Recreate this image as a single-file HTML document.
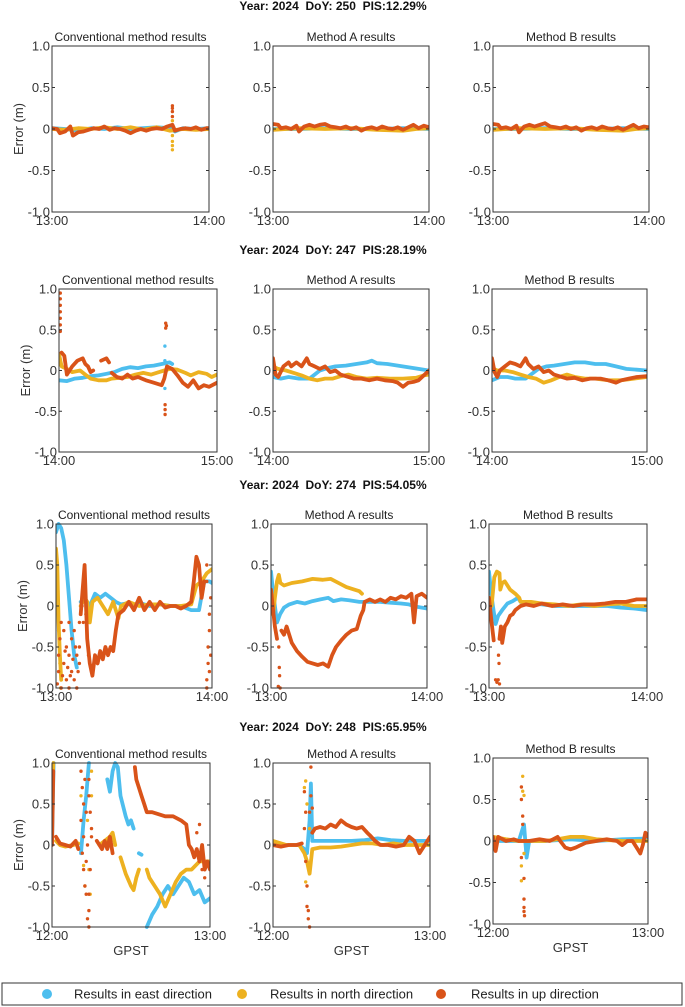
<!DOCTYPE html>
<html><head><meta charset="utf-8"><style>
body{margin:0;background:#fff;}
svg{display:block;font-family:"Liberation Sans",sans-serif;}
</style></head><body>
<svg id="fig" width="685" height="1007" viewBox="0 0 685 1007" xmlns="http://www.w3.org/2000/svg"></svg>
<script>
// ---- data (time in minutes since start, error in metres) ----
const yTicks=[1.0,0.5,0,-0.5,-1.0];
const yTickLabels=["1.0","0.5","0","-0.5","-1.0"];
const headers=["Year: 2024  DoY: 250  PIS:12.29%","Year: 2024  DoY: 247  PIS:28.19%","Year: 2024  DoY: 274  PIS:54.05%","Year: 2024  DoY: 248  PIS:65.95%"];
const xTickLabels=[["13:00","14:00"],["14:00","15:00"],["13:00","14:00"],["12:00","13:00"]];
const panelTitles=["Conventional method results","Method A results","Method B results"];

// Row 1 (DoY 250)
const r1c1_east=[[0,0.01],[5,0],[10,-0.02],[15,0.01],[20,0],[25,0.02],[30,0],[35,0.01],[40,0.02],[45,0.01],[47,-0.03],[50,0.01],[55,0],[60,0.01]];
const r1c1_north=[[0,0],[5,-0.01],[10,0.01],[15,0],[20,0.02],[25,0],[30,0.02],[35,-0.01],[40,0.02],[45,-0.02],[50,0],[55,-0.01],[60,0]];
const r1c1_up=[[0,0.01],[2,0],[3,-0.05],[5,-0.03],[7,0.03],[8,-0.08],[10,-0.04],[12,-0.03],[14,-0.01],[16,0.01],[18,0],[20,0.03],[22,-0.01],[24,0.01],[26,0],[28,-0.02],[30,-0.05],[32,-0.02],[34,0],[36,-0.02],[38,0],[40,0.01],[42,0],[44,0.03],[46,0.05],[47,-0.02],[49,0],[51,0.01],[53,0],[55,0.02],[57,-0.01],[59,0.01],[60,0.01]];
const r1c1_spikes_up=[[46,0.28],[46,0.25],[46,0.21],[46,0.15]];
const r1c1_spikes_en=[[46,0.1],[46,-0.08],[46,-0.15],[46,-0.2],[46,-0.25]];
const r1c2_east=[[0,0],[10,0],[20,0.01],[30,0],[40,0],[50,0.01],[60,0]];
const r1c2_north=[[0,-0.01],[5,0],[10,0.01],[20,0],[30,0.01],[40,-0.01],[50,-0.02],[55,0],[60,0.01]];
const r1c2_up=[[0,0.06],[2,0.05],[3,0.01],[5,0.02],[7,0],[9,0.04],[10,-0.03],[12,0.03],[14,0.05],[16,0.03],[18,0.05],[20,0.06],[22,0.03],[24,0.02],[26,0.01],[28,0.03],[30,0],[32,0.02],[34,-0.02],[36,0.01],[38,0.02],[40,0],[42,0.03],[44,0.01],[46,0],[48,0.02],[50,-0.01],[52,0.02],[54,0.05],[56,0.01],[58,0.04],[60,0.02]];
const r1c3_east=[[0,0],[10,0],[20,0.01],[30,0],[40,0],[50,0.01],[60,0]];
const r1c3_north=[[0,-0.01],[5,0],[10,0.01],[20,0],[30,0.01],[40,-0.01],[50,-0.02],[55,0],[60,0.01]];
const r1c3_up=[[0,0.06],[2,0.05],[3,0.01],[5,0.02],[7,0],[9,0.04],[10,-0.04],[12,0.03],[14,0.05],[16,0.03],[18,0.05],[20,0.07],[22,0.03],[24,0.02],[26,0.01],[28,0.03],[30,0],[32,0.02],[34,-0.02],[36,0.01],[38,0.02],[40,0],[42,0.03],[44,0.01],[46,0],[48,0.02],[50,-0.01],[52,0.02],[54,0.05],[56,0.01],[58,0.03],[60,0.02]];

// Row 2 (DoY 247)
const r2c1_east=[[0,-0.12],[3,-0.13],[6,-0.1],[9,-0.09],[12,-0.07],[15,-0.06],[18,-0.04],[21,-0.02],[24,0.02],[27,0.04],[30,0.03],[33,0.05],[36,0.06],[39,0.08],[42,0.1],[43,0.08]];
const r2c1_north=[[0,0.2],[1,0.05],[3,0.02],[5,-0.02],[8,0],[10,-0.05],[12,-0.1],[15,-0.12],[18,-0.12],[20,-0.1],[23,-0.09],[26,-0.08],[29,-0.05],[32,-0.03],[35,-0.05],[38,-0.02],[40,0],[42,0.02],[45,0.01],[48,-0.03],[50,-0.06],[53,-0.02],[56,-0.04],[58,-0.08],[60,-0.05]];
const r2c1_up=[[1,0.22],[2,0.18],[3,-0.05],[5,0.05],[7,0.12],[9,0.15],[10,0.08],[11,0.05],[12,-0.02],[13,0],[null,null],[16,0.12],[18,0.15],[19,0.1],[null,null],[20,-0.03],[22,-0.08],[24,-0.1],[26,-0.05],[28,-0.1],[30,-0.08],[33,-0.12],[36,-0.15],[39,-0.18],[40,-0.1],[41,0.05],[43,0.02],[45,-0.06],[47,-0.15],[49,-0.2],[51,-0.12],[53,-0.22],[55,-0.18],[57,-0.2],[60,-0.15]];
const r2c1_spikes_up=[[0.5,0.95],[0.5,0.88],[0.5,0.8],[0.5,0.72],[0.5,0.64],[0.5,0.56],[0.5,0.48],[40.5,0.58],[40.8,0.55],[40.5,0.52],[40.3,-0.42],[40.3,-0.48],[40.3,-0.54]];
const r2c1_spikes_en=[[40.2,0.3],[40.2,0.12],[40.2,-0.22]];
const r2c2_east=[[0,-0.08],[3,-0.1],[6,-0.08],[10,-0.1],[14,-0.1],[16,-0.05],[18,0],[21,0.03],[24,0.05],[28,0.06],[32,0.08],[36,0.1],[38,0.12],[40,0.09],[44,0.08],[48,0.06],[52,0.04],[56,0.02],[60,0.0]];
const r2c2_north=[[0,0.05],[2,0.02],[5,0],[8,-0.03],[11,-0.06],[14,-0.1],[17,-0.12],[20,-0.1],[23,-0.1],[26,-0.07],[29,-0.05],[32,-0.08],[36,-0.1],[40,-0.09],[45,-0.1],[50,-0.1],[55,-0.09],[58,-0.06],[60,-0.05]];
const r2c2_up=[[0,0.15],[1,-0.05],[2,-0.08],[4,0.05],[6,0.1],[7,0.05],[9,0.1],[11,0.05],[13,0.15],[14,0.08],[16,0.05],[18,0.02],[20,0.05],[22,-0.02],[24,0.0],[26,-0.05],[28,-0.07],[31,-0.1],[34,-0.1],[37,-0.12],[40,-0.1],[43,-0.12],[46,-0.13],[48,-0.15],[50,-0.2],[52,-0.15],[54,-0.14],[56,-0.12],[58,-0.06],[60,0]];
const r2c3_east=[[0,-0.12],[3,-0.08],[6,-0.08],[9,-0.1],[13,-0.1],[15,-0.05],[18,0.02],[21,0.05],[24,0.06],[28,0.08],[32,0.1],[36,0.1],[40,0.08],[44,0.08],[48,0.05],[52,0.02],[56,0.01],[60,0.0]];
const r2c3_north=[[0,0.03],[2,0.0],[5,0.0],[8,-0.02],[11,-0.05],[14,-0.08],[17,-0.1],[20,-0.15],[23,-0.12],[26,-0.08],[29,-0.05],[32,-0.08],[36,-0.1],[40,-0.1],[45,-0.12],[50,-0.12],[55,-0.1],[60,-0.08]];
const r2c3_up=[[0,0.15],[1,-0.02],[2,-0.08],[3,0],[5,0.05],[7,0.1],[9,0.08],[11,0.05],[13,0.15],[14,0.08],[16,0.02],[18,0.05],[20,-0.02],[22,0],[24,-0.05],[26,-0.07],[29,-0.1],[32,-0.09],[35,-0.12],[38,-0.1],[42,-0.1],[45,-0.12],[48,-0.15],[50,-0.12],[53,-0.1],[56,-0.08],[60,-0.07]];

// Row 3 (DoY 274)
const r3c1_east=[[0,0.9],[1,1.0],[2,0.95],[3,0.8],[4,0.5],[5,0.1],[6,-0.3],[7,-0.6],[8,-0.75],[null,null],[9.5,0.05],[11,0.1],[13,0.0],[15,0.15],[17,0.1],[19,0.15],[21,0.1],[23,0.05],[25,0.02],[27,0.03],[30,0.0],[33,0.03],[36,0.0],[40,0.02],[44,0.0],[48,0.0],[52,-0.05],[55,-0.05],[57,0.3],[59,0.3],[60,0.28]];
const r3c1_north=[[0,0.7],[0.5,0.5],[1,-0.2],[1.5,-0.6],[2,-0.9],[null,null],[9.5,0.0],[11,0.1],[12,0.05],[13,-0.2],[14,0.05],[16,0.1],[18,0.0],[20,-0.1],[22,0.05],[24,-0.15],[25,0.0],[28,0.05],[32,0.0],[36,0.02],[40,0.02],[44,0],[48,0],[52,0.02],[54,0.25],[56,0.3],[58,0.4],[60,0.45]];
const r3c1_up=[[9.5,-0.1],[10.5,0.3],[11,0.5],[12,-0.4],[13,-0.7],[14,-0.85],[15,-0.6],[16,-0.7],[17,-0.55],[18,-0.65],[19,-0.5],[20,-0.6],[21,-0.5],[22,-0.55],[23,-0.3],[24,-0.1],[26,-0.05],[28,0.05],[30,-0.05],[32,0.1],[34,-0.05],[36,0.05],[38,-0.05],[40,0.05],[42,-0.02],[44,0.0],[46,0],[48,-0.03],[50,0.0],[52,0.05],[53,0.3],[54,0.6],[55,0.5],[56,0.1],[57,0.3]];
const r3c1_spikes_up=[[0.5,-0.95],[1,-0.8],[1,-0.6],[1.5,-0.4],[2,-0.2],[2,-1.0],[2.5,-0.85],[3,-0.3],[3,-0.7],[3.5,-0.55],[4,-0.5],[4,-0.9],[4.5,-0.75],[5,-0.2],[5,-0.6],[5,-1.0],[5.5,-0.85],[6,-0.4],[6,-0.8],[6.5,-0.65],[7,-0.3],[7,-0.9],[7.5,-0.5],[8,-0.6],[8,-1.0],[8.5,-0.8],[9,-0.2],[9,-0.5],[9,-0.7],[10,0.0],[10.5,-0.2],[11.5,-0.1],[12.5,-0.6],[58,-1.0],[58,-0.9],[58.5,-0.7],[58.5,-0.5],[59,-0.3],[59,-0.1],[59.5,0.1],[58,0.5],[58,0.3],[59.5,-0.6],[59,-0.8]];
const r3c1_spikes_n=[[0.3,0.6],[0.5,0.3],[0.8,0.0],[1,-0.3],[1.2,-0.5],[1.5,-0.7],[2,-0.85],[1.8,-1.0]];
const r3c2_east=[[0,0.42],[0.7,0.2],[1.5,0.0],[2.3,-0.2],[3.5,-0.1],[5,-0.02],[7,0.02],[10,0.05],[13,0.03],[16,0.06],[19,0.08],[22,0.1],[24,0.06],[27,0.08],[30,0.07],[34,0.05],[38,0.05],[42,0.05],[46,0.04],[50,0.03],[53,0.02],[56,-0.01],[60,-0.03]];
const r3c2_north=[[0,0.0],[0.8,-0.1],[1.5,0.1],[2.3,0.3],[3,0.38],[3.6,0.28],[5,0.25],[8,0.28],[12,0.3],[16,0.33],[20,0.32],[23,0.33],[26,0.28],[29,0.23],[32,0.2],[34,0.18],[35,0.15]];
const r3c2_up=[[0,0.2],[0.8,-0.05],[1.5,-0.25],[2.3,-0.4],[null,null],[4,-0.3],[5,-0.35],[6,-0.25],[7,-0.35],[8,-0.45],[10,-0.55],[12,-0.62],[14,-0.68],[16,-0.7],[18,-0.72],[20,-0.7],[22,-0.74],[23.5,-0.6],[25,-0.5],[27,-0.42],[29,-0.35],[31,-0.3],[33,-0.28],[34.5,-0.12],[35.5,-0.05],[36,0.05],[38,0.08],[40,0.05],[42,0.08],[44,0.05],[46,0.1],[48,0.08],[50,0.12],[52,0.1],[54,0.15],[55,-0.2],[56,0.12],[58,0.15],[60,0.1]];
const r3c2_spikes_up=[[3,-0.5],[3.2,-0.75],[3.3,-0.85],[2.8,-0.98],[3.5,-1.0]];
const r3c3_east=[[0,0.42],[0.7,0.2],[1.5,0.0],[2.5,-0.22],[3.5,-0.12],[5,-0.05],[7,0.03],[9,0.06],[11,0.1],[12,0.05],[15,0.03],[20,0.02],[25,0.0],[30,0.0],[35,0.0],[40,0.0],[45,0.0],[50,-0.02],[55,-0.03],[60,-0.05]];
const r3c3_north=[[0,0.1],[1,0.0],[2,0.35],[3,0.42],[4,0.4],[4.3,0.2],[5,0.28],[6,0.3],[8,0.2],[10,0.15],[11.5,0.1],[12,0.05],[16,0.05],[20,0.03],[25,0.02],[30,0.0],[35,0.02],[40,0.0],[45,0.02],[50,0.03],[55,0.0],[60,0.0]];
const r3c3_up=[[0,0.1],[1,-0.2],[1.8,-0.42],[null,null],[4,-0.4],[4.5,-0.25],[5,-0.45],[6,-0.25],[7,-0.2],[8,-0.12],[9,-0.1],[10,-0.05],[12,0.0],[14,0.02],[17,0],[20,0.03],[24,0.0],[28,0.02],[32,0],[36,0.02],[40,0.02],[44,0.03],[48,0.05],[52,0.05],[56,0.08],[60,0.08]];
const r3c3_spikes_up=[[2.5,-0.9],[3,-0.93],[3.5,-0.9],[4,-0.95],[3.6,-0.6],[3.8,-0.7]];

// Row 4 (DoY 248)
const r4c1_east=[[0,0.0],[0.3,0.5],[0.6,1.0],[null,null],[11,-0.1],[12,0.3],[13,0.6],[14,1.0],[null,null],[21,0.8],[22,0.65],[23,0.9],[24,1.0],[25,0.95],[26,0.6],[28,0.35],[29,0.25],[30,0.3],[31,0.2],[null,null],[33,-0.1],[34,-0.12],[null,null],[36,-1.0],[38,-0.85],[40,-0.75],[42,-0.6],[44,-0.5],[46,-0.6],[48,-0.5],[50,-0.4],[52,-0.45],[54,-0.6],[56,-0.55],[58,-0.7],[60,-0.65]];
const r4c1_north=[[0,0.6],[0.5,1.0],[null,null],[1.5,0.05],[3,0.0],[5,-0.02],[8,0.0],[10,0.02],[null,null],[18,0.0],[20,0.05],[22,0.1],[23,0.15],[24,0.0],[null,null],[26,-0.15],[28,-0.35],[30,-0.5],[31,-0.55],[32,-0.4],[33,-0.3],[null,null],[36,-0.3],[37,-0.4],[39,-0.5],[41,-0.6],[43,-0.75],[45,-0.6],[47,-0.45],[49,-0.35],[51,-0.3],[53,-0.3],[56,-0.2],[60,-0.2]];
const r4c1_up=[[0,0.0],[0.5,0.9],[null,null],[1.5,0.1],[3,0.02],[5,0.0],[7,-0.02],[9,0.05],[10,-0.05],[null,null],[17,0.05],[19,-0.05],[20,0.05],[21,-0.05],[22,0.1],[23,-0.1],[null,null],[31.5,0.95],[32,0.8],[33,0.7],[34,0.6],[35,0.5],[36,0.4],[38,0.4],[40,0.38],[43,0.35],[46,0.35],[49,0.3],[51,0.25],[52,0.0],[53,-0.05],[54,-0.15],[55,-0.05],[56,-0.2],[57,0.0],[58,-0.3],[59,-0.2],[60,-0.3]];
const r4c1_spikes_up=[[11,0.9],[11.5,0.7],[12,0.5],[11,0.3],[12,0.1],[11.5,-0.1],[12,-0.3],[12.5,-0.5],[13,-0.2],[12.5,0.8],[13,0.4],[13.5,0.0],[14,0.6],[14,0.8],[14.5,0.4],[15,0.1],[15,0.2],[14,-0.6],[14,-0.8],[13.5,-0.9],[14,-1.0],[13,-0.6],[14.5,-0.3],[55,0.15],[56,0.25],[57,-0.3],[58,-0.4]];
const r4c1_spikes_n=[[11,0.6],[12,-0.25],[12.5,-0.5],[13.5,0.3],[14,-0.3],[14.5,-0.6],[15,0.9],[15,0.6]];
const r4c2_east=[[0,0.0],[5,0.0],[10,0.0],[12,-0.05],[13,-0.1],[14,0.3],[14.5,0.75],[15,0.05],[17,0.05],[20,0.05],[25,0.05],[30,0.05],[35,0.06],[40,0.08],[45,0.06],[50,0.05],[55,0.05],[60,0.05]];
const r4c2_north=[[0,0.05],[5,0.0],[10,0.0],[12,-0.1],[13,-0.2],[14,-0.35],[15,-0.05],[18,-0.03],[22,-0.03],[26,-0.02],[30,0.0],[34,0.02],[38,0.02],[42,0.0],[46,0.02],[50,0.0],[55,0.0],[60,0.0]];
const r4c2_up=[[0,0.0],[3,-0.02],[6,0.0],[9,0.0],[11,0.02],[null,null],[15,0.15],[16,0.2],[18,0.22],[20,0.2],[22,0.25],[24,0.22],[26,0.3],[28,0.25],[30,0.22],[32,0.2],[34,0.22],[36,0.15],[37,0.12],[39,0.05],[41,0.0],[44,0.0],[47,-0.02],[50,0.0],[52,0.1],[54,0.05],[56,-0.1],[58,0.0],[60,0.1]];
const r4c2_spikes_up=[[12,0.65],[12.5,0.4],[12,0.2],[12.5,-0.2],[13,-0.5],[13,-0.75],[13.5,-0.8],[13.5,-0.9],[14,-1.0],[14.5,0.95],[14.5,0.6],[14,0.4],[15,0.45]];
const r4c2_spikes_n=[[12,0.7],[12.5,0.78],[13,0.5],[12.5,-0.45],[14,0.2]];
const r4c3_east=[[0,0.0],[10,0.0],[12,0.2],[13,-0.2],[14,0.0],[20,0.0],[30,0.02],[40,0.0],[50,0.02],[60,0.03]];
const r4c3_north=[[0,0.05],[5,0.02],[10,0.0],[14,0.0],[20,0.0],[25,0.02],[30,0.05],[35,0.05],[40,0.02],[50,0.0],[60,0.0]];
const r4c3_up=[[0,0.05],[1,-0.12],[2,0.05],[5,0.0],[8,0.02],[10,0.0],[14,0.0],[18,0.02],[22,0.0],[25,0.05],[26,0.0],[28,-0.08],[30,-0.1],[32,-0.08],[34,-0.05],[36,-0.02],[40,0.0],[44,0.02],[48,0.0],[50,-0.05],[52,0.0],[54,0.0],[56,-0.1],[57,-0.15],[58,-0.05],[59,0.1],[60,0.05]];
const r4c3_spikes_up=[[11,0.65],[11,0.5],[11.5,0.3],[11.5,0.2],[11,-0.2],[12,-0.45],[12,-0.7],[12,-0.8],[12,-0.85],[12.2,-0.9]];
const r4c3_spikes_n=[[11.5,0.78],[11.5,0.6],[11,-0.3],[11,-0.48],[12,0.55],[12,-0.15]];

// ---- layout ----
const C={east:"#4DBEEE",north:"#EDB120",up:"#D95319"};
const geom=[
 {y0:46,y1:212,x:[[52,209],[273,429],[493,649]]},
 {y0:289,y1:452,x:[[59,217],[273,429],[492,647]]},
 {y0:524,y1:688,x:[[56,212],[271,427],[489,647]]},
 {y0:763,y1:927,x:[[52,210],[273,430],[493,648]],alt:{2:[758,924]}}
];
const headerY=[10,254,489,731];
const panelData=[
 [{e:r1c1_east,n:r1c1_north,u:r1c1_up,su:r1c1_spikes_up,sn:r1c1_spikes_en},{e:r1c2_east,n:r1c2_north,u:r1c2_up},{e:r1c3_east,n:r1c3_north,u:r1c3_up}],
 [{e:r2c1_east,n:r2c1_north,u:r2c1_up,su:r2c1_spikes_up,se:r2c1_spikes_en},{e:r2c2_east,n:r2c2_north,u:r2c2_up},{e:r2c3_east,n:r2c3_north,u:r2c3_up}],
 [{e:r3c1_east,n:r3c1_north,u:r3c1_up,su:r3c1_spikes_up,sn:r3c1_spikes_n},{e:r3c2_east,n:r3c2_north,u:r3c2_up,su:r3c2_spikes_up},{e:r3c3_east,n:r3c3_north,u:r3c3_up,su:r3c3_spikes_up}],
 [{e:r4c1_east,n:r4c1_north,u:r4c1_up,su:r4c1_spikes_up,sn:r4c1_spikes_n},{e:r4c2_east,n:r4c2_north,u:r4c2_up,su:r4c2_spikes_up,sn:r4c2_spikes_n},{e:r4c3_east,n:r4c3_north,u:r4c3_up,su:r4c3_spikes_up,sn:r4c3_spikes_n}]
];
const NS="http://www.w3.org/2000/svg";
const svg=document.getElementById('fig');
function mk(tag,attrs,parent){const el=document.createElementNS(NS,tag);for(const k in attrs)el.setAttribute(k,attrs[k]);(parent||svg).appendChild(el);return el;}

headers.forEach((h,i)=>{
 const t=mk('text',{x:333,y:headerY[i],'text-anchor':'middle','font-size':'12','font-weight':'bold',fill:'#111',style:'white-space:pre'});
 
 
 t.textContent=h;
});

function drawSeries(g,pts,sx,sy,color,name){
 let segs=[],cur=[];
 pts.forEach(p=>{if(p[0]===null){if(cur.length)segs.push(cur);cur=[];}else cur.push(sx(p[0]).toFixed(1)+','+sy(p[1]).toFixed(1));});
 if(cur.length)segs.push(cur);
 segs.forEach(s=>{
  const pl=mk('polyline',{points:s.join(' '),fill:'none',stroke:color,'stroke-width':'3.8','stroke-linejoin':'round','stroke-linecap':'round'},g);
  
  
 });
}
function drawDots(g,pts,sx,sy,color,name){
 pts.forEach(p=>{
  const c=mk('circle',{cx:sx(p[0]).toFixed(1),cy:sy(p[1]).toFixed(1),r:'1.7',fill:color},g);
  
  
 });
}

geom.forEach((row,ri)=>{
 row.x.forEach((xr,ci)=>{
  let y0=row.y0,y1=row.y1;
  if(row.alt&&row.alt[ci]){y0=row.alt[ci][0];y1=row.alt[ci][1];}
  const x0=xr[0],x1=xr[1];
  const sx=t=>x0+(x1-x0)*t/60;
  const sy=v=>{const vv=Math.max(-1,Math.min(1,v));return y1-(y1-y0)*(vv+1)/2;};
  const g=mk('g',{});
  
  
  const ttl=mk('text',{x:(x0+x1)/2,y:y0-5,'text-anchor':'middle','font-size':'12',fill:'#222'},g);
  
  
  ttl.textContent=panelTitles[ci];
  const clipId='clip'+ri+ci;
  const cp=mk('clipPath',{id:clipId},g);mk('rect',{x:x0,y:y0-2,width:x1-x0,height:y1-y0+4},cp);
  const dg=mk('g',{'clip-path':'url(#'+clipId+')'},g);
  const d=panelData[ri][ci];
  drawSeries(dg,d.e,sx,sy,C.east,'east-series');
  drawSeries(dg,d.n,sx,sy,C.north,'north-series');
  drawSeries(dg,d.u,sx,sy,C.up,'up-series');
  if(d.se)drawDots(dg,d.se,sx,sy,C.east,'east-outlier');
  if(d.sn)drawDots(dg,d.sn,sx,sy,C.north,'north-outlier');
  if(d.su)drawDots(dg,d.su,sx,sy,C.up,'up-outlier');
  const fr=mk('rect',{x:x0,y:y0,width:x1-x0,height:y1-y0,fill:'none',stroke:'#333','stroke-width':'1'},g);
  
  
  yTicks.forEach((v,k)=>{
   const yy=sy(v);
   mk('line',{x1:x0,x2:x0+3,y1:yy,y2:yy,stroke:'#333'},g);
   mk('line',{x1:x1,x2:x1-3,y1:yy,y2:yy,stroke:'#333'},g);
   const tl=mk('text',{x:x0-2,y:yy+4.5,'text-anchor':'end','font-size':'13',fill:'#333'},g);
   
   
   tl.textContent=yTickLabels[k];
  });
  [0,60].forEach((t,k)=>{
   const tl=mk('text',{x:sx(t),y:y1+13,'text-anchor':'middle','font-size':'13',fill:'#333'},g);
   
   
   tl.textContent=xTickLabels[ri][k];
  });
  if(ci===0){
   const yl=mk('text',{x:0,y:0,'text-anchor':'middle','font-size':'13',fill:'#333',transform:'translate('+(x0-29)+','+((y0+y1)/2)+') rotate(-90)'},g);
   
   
   yl.textContent='Error (m)';
  }
  if(ri===3){
   const xl=mk('text',{x:(x0+x1)/2,y:y1+28,'text-anchor':'middle','font-size':'13',fill:'#333'},g);
   
   
   xl.textContent='GPST';
  }
 });
});

// legend
const lg=mk('g',{});


mk('rect',{x:2,y:983,width:680,height:22,fill:'#fff',stroke:'#333','stroke-width':'1'},lg);
[["Results in east direction",C.east,47,74],["Results in north direction",C.north,242,270],["Results in up direction",C.up,441,471]].forEach(e=>{
 const c=mk('circle',{cx:e[2],cy:994,r:5,fill:e[1]},lg);
 
 
 const t=mk('text',{x:e[3],y:998.5,'font-size':'13',fill:'#222'},lg);
 
 
 t.textContent=e[0];
});
</script>
</body></html>
